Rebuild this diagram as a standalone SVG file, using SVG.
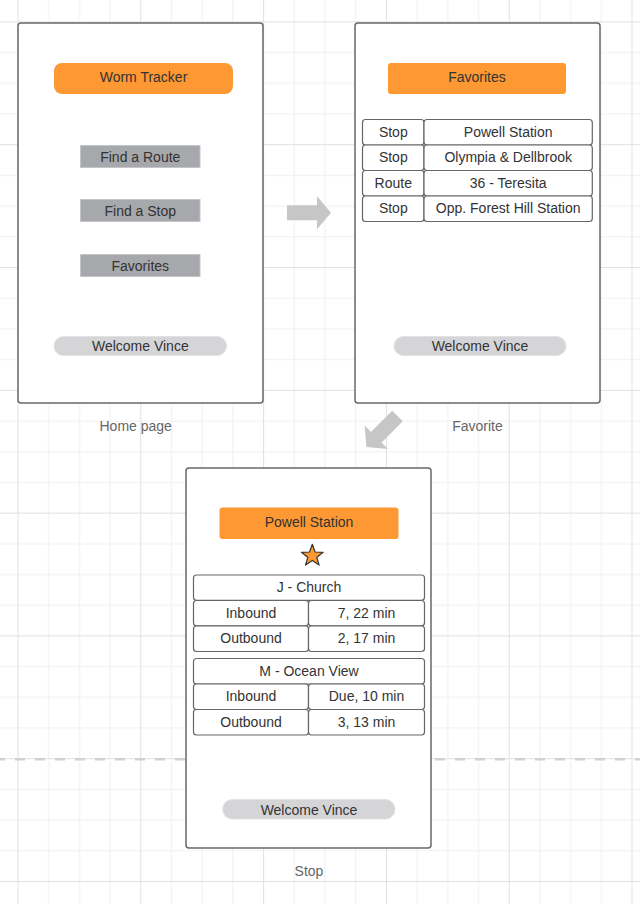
<svg xmlns="http://www.w3.org/2000/svg" width="640" height="904" viewBox="0 0 640 904">
<defs>
<pattern id="grid" patternUnits="userSpaceOnUse" x="17.5" y="21.4" width="122.8" height="122.8">
<path d="M31.2 0V122.8M61.9 0V122.8M92.6 0V122.8M0 31.2H122.8M0 61.9H122.8M0 92.6H122.8" stroke="#efefef" stroke-width="1" fill="none"/>
<path d="M0.5 0V122.8M0 0.5H122.8" stroke="#e0e0e0" stroke-width="1" fill="none"/>
</pattern>
<path id="arrow" d="M0 -7.5H30V-16.5L44 0L30 16.5V7.5H0Z" fill="#c6c6c6"/>
<style>
.frame{fill:#fff;stroke:#686868;stroke-width:1.5}
.orange{fill:#fd9833}
.btn{fill:#a7a8ac;stroke:#c4c5c8;stroke-width:1}
.pill{fill:#d5d5d7;stroke:#e2e2e4;stroke-width:1}
.cell{fill:#fff;stroke:#666;stroke-width:1.2}
text{font-family:"Liberation Sans",Arial,sans-serif;font-size:14px;fill:#333;text-anchor:middle}
.lbl{fill:#666}
</style>
</defs>
<rect width="640" height="904" fill="#fff"/>
<rect width="640" height="904" fill="url(#grid)"/>
<path d="M-5 759.3H640" stroke="#d2d2d2" stroke-width="2.5" stroke-dasharray="10 10" fill="none"/>

<g id="home">
<rect class="frame" x="18" y="23" width="245" height="380" rx="3"/>
<rect class="orange" x="54" y="63" width="179" height="31" rx="8"/>
<text x="143.5" y="82">Worm Tracker</text>
<rect class="btn" x="80.5" y="145.5" width="119.5" height="22"/>
<text x="140.3" y="161.5">Find a Route</text>
<rect class="btn" x="80.5" y="199.5" width="119.5" height="22"/>
<text x="140.3" y="215.5">Find a Stop</text>
<rect class="btn" x="80.5" y="254.5" width="119.5" height="22"/>
<text x="140.3" y="270.5">Favorites</text>
<rect class="pill" x="54" y="336.5" width="172.5" height="19" rx="9.5"/>
<text x="140.3" y="351">Welcome Vince</text>
<text class="lbl" x="135.7" y="431">Home page</text>
</g>

<g id="favorites">
<rect class="frame" x="355" y="23" width="245" height="380" rx="3"/>
<rect class="orange" x="388" y="63" width="178" height="31" rx="3"/>
<text x="477" y="82">Favorites</text>
<rect class="cell" x="362.5" y="119.5" width="61.5" height="25.5" rx="3"/>
<rect class="cell" x="424" y="119.5" width="168.3" height="25.5" rx="3"/>
<text x="393.3" y="136.5">Stop</text>
<text x="508.2" y="136.5">Powell Station</text>
<rect class="cell" x="362.5" y="145" width="61.5" height="25.5" rx="3"/>
<rect class="cell" x="424" y="145" width="168.3" height="25.5" rx="3"/>
<text x="393.3" y="162">Stop</text>
<text x="508.2" y="162">Olympia &amp; Dellbrook</text>
<rect class="cell" x="362.5" y="170.5" width="61.5" height="25.5" rx="3"/>
<rect class="cell" x="424" y="170.5" width="168.3" height="25.5" rx="3"/>
<text x="393.3" y="187.5">Route</text>
<text x="508.2" y="187.5">36 - Teresita</text>
<rect class="cell" x="362.5" y="196" width="61.5" height="25.5" rx="3"/>
<rect class="cell" x="424" y="196" width="168.3" height="25.5" rx="3"/>
<text x="393.3" y="213">Stop</text>
<text x="508.2" y="213">Opp. Forest Hill Station</text>
<rect class="pill" x="394" y="336.5" width="172" height="19" rx="9.5"/>
<text x="480" y="351">Welcome Vince</text>
<text class="lbl" x="477.5" y="431">Favorite</text>
</g>

<g id="stop">
<rect class="frame" x="186" y="468" width="245" height="380" rx="3"/>
<rect class="orange" x="219.5" y="507.5" width="179" height="31.5" rx="3"/>
<text x="309" y="526.5">Powell Station</text>
<path d="M312.3 544.3L315.1 552L323.2 552.3L316.8 557.3L319.1 565.1L312.3 560.6L305.5 565.1L307.8 557.3L301.4 552.3L309.5 552Z" fill="#fd9833" stroke="#333" stroke-width="1.2" stroke-linejoin="round"/>
<rect class="cell" x="193.5" y="575" width="231" height="25.3" rx="3"/>
<text x="309" y="592">J - Church</text>
<rect class="cell" x="193.5" y="600.5" width="115" height="25.3" rx="3"/>
<rect class="cell" x="308.5" y="600.5" width="116" height="25.3" rx="3"/>
<text x="251" y="617.5">Inbound</text>
<text x="366.5" y="617.5">7, 22 min</text>
<rect class="cell" x="193.5" y="626" width="115" height="25.5" rx="3"/>
<rect class="cell" x="308.5" y="626" width="116" height="25.5" rx="3"/>
<text x="251" y="643">Outbound</text>
<text x="366.5" y="643">2, 17 min</text>
<rect class="cell" x="193.5" y="658.5" width="231" height="25.5" rx="3"/>
<text x="309" y="675.5">M - Ocean View</text>
<rect class="cell" x="193.5" y="684" width="115" height="25.5" rx="3"/>
<rect class="cell" x="308.5" y="684" width="116" height="25.5" rx="3"/>
<text x="251" y="701">Inbound</text>
<text x="366.5" y="701">Due, 10 min</text>
<rect class="cell" x="193.5" y="709.5" width="115" height="25.5" rx="3"/>
<rect class="cell" x="308.5" y="709.5" width="116" height="25.5" rx="3"/>
<text x="251" y="726.5">Outbound</text>
<text x="366.5" y="726.5">3, 13 min</text>
<rect class="pill" x="222.7" y="799.5" width="172.3" height="19.5" rx="9.7"/>
<text x="309" y="814.5">Welcome Vince</text>
<text class="lbl" x="309" y="876">Stop</text>
</g>

<g id="connectors">
<use href="#arrow" transform="translate(287 212.7)"/>
<use href="#arrow" transform="translate(397.5 416) rotate(135)"/>
</g>
</svg>
